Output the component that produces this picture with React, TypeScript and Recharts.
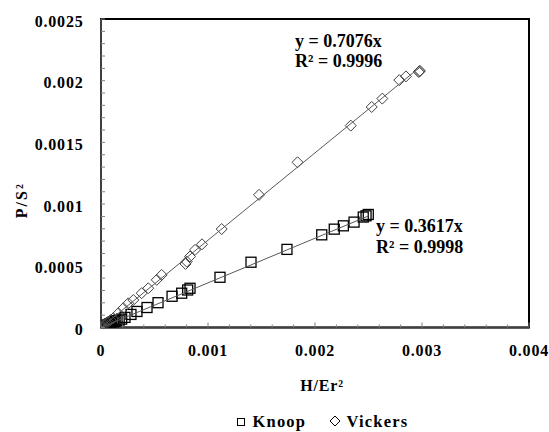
import React from 'react';
import { ScatterChart, Scatter, XAxis, YAxis, ReferenceArea } from 'recharts';

// Knoop indentation data (H/Er², P/S²)
const knoopX = [
  0, 0.000003, 0.000006, 0.00001, 0.000014, 0.00002, 0.000025, 0.00003, 0.00004, 0.000047,
  0.000053, 0.00006, 0.00007, 0.00008, 0.00009, 0.0001, 0.000115, 0.00013, 0.00015, 0.00017,
  0.000193, 0.000224, 0.00028, 0.000336, 0.00043, 0.000533, 0.000664, 0.000754, 0.00081,
  0.000832, 0.001112, 0.001402, 0.001738, 0.002063, 0.00218, 0.002265, 0.002365, 0.002451,
  0.002477, 0.002498,
];
const knoopY = [
  0.000001, 0.000002, 0.000003, 0.000005, 0.000006, 0.000008, 0.000009, 0.00001, 0.000012, 0.000016,
  0.000015, 0.00002, 0.000024, 0.000028, 0.000032, 0.000036, 0.000042, 0.00005, 0.000055, 0.00006,
  0.000068, 0.000082, 0.000106, 0.00013, 0.000162, 0.000201, 0.000253, 0.000278, 0.000304,
  0.000318, 0.000407, 0.000529, 0.000633, 0.000751, 0.000797, 0.000824, 0.000854, 0.000895,
  0.000905, 0.000916,
];

// Vickers indentation data
const vickersX = [
  0, 0.000005, 0.00001, 0.000015, 0.000021, 0.00003, 0.00004, 0.000055, 0.000068, 0.00009,
  0.000115, 0.000162, 0.000208, 0.000255, 0.000302, 0.00038, 0.000442, 0.000521, 0.000567,
  0.00079, 0.000801, 0.000832, 0.000879, 0.000944, 0.001128, 0.001477, 0.001837, 0.002334,
  0.00253, 0.002629, 0.002788, 0.00285, 0.00297, 0.002975, 0.00298,
];
const vickersY = [
  0.000002, 0.000005, 0.00001, 0.000012, 0.00002, 0.000024, 0.000032, 0.00004, 0.000047, 0.00006,
  0.000075, 0.000115, 0.000156, 0.000196, 0.000223, 0.000278, 0.000318, 0.000386, 0.000426,
  0.000515, 0.000534, 0.000575, 0.000629, 0.000674, 0.000798, 0.001075, 0.001339, 0.001636,
  0.001787, 0.001855, 0.002005, 0.002035, 0.00207, 0.002076, 0.00208,
];

// linear trendlines through the origin
const knoopSlope = 0.3617;
const vickersSlope = 0.7076;
const knoopTrendX = [0, 0.0025];
const vickersTrendX = [0, 0.00298];
const knoopEquation = ['y = 0.3617x', 'R² = 0.9998'];
const vickersEquation = ['y = 0.7076x', 'R² = 0.9996'];

const seriesNames = ['Knoop', 'Vickers'];

const xMajorTicks = [0, 0.001, 0.002, 0.003, 0.004];
const xMinorTicks = [0.0002, 0.0004, 0.0006, 0.0008, 0.0012, 0.0014, 0.0016, 0.0018, 0.0022, 0.0024, 0.0026, 0.0028, 0.0032, 0.0034, 0.0036, 0.0038];
const yMajorTicks = [0, 0.0005, 0.001, 0.0015, 0.002, 0.0025];
const yMinorTicks = [
  0.0001, 0.0002, 0.0003, 0.0004, 0.0006, 0.0007, 0.0008, 0.0009, 0.0011, 0.0012, 0.0013, 0.0014,
  0.0016, 0.0017, 0.0018, 0.0019, 0.0021, 0.0022, 0.0023, 0.0024,
];

const xTitle = 'H/Er²';
const yTitle = 'P/S²';

const FONT = "'Liberation Serif', 'Times New Roman', serif";
const tickStyle = { fontFamily: FONT, fontWeight: 700, fontSize: 16, letterSpacing: 0.8, fill: '#000' };

const knoopData = knoopX.map((x, i) => ({ x, y: knoopY[i] }));
const vickersData = vickersX.map((x, i) => ({ x, y: vickersY[i] }));
const knoopTrend = knoopTrendX.map((x) => ({ x, y: x * knoopSlope }));
const vickersTrend = vickersTrendX.map((x) => ({ x, y: x * vickersSlope }));

const xTicks = [...xMajorTicks, ...xMinorTicks].sort((a, b) => a - b);
const yTicks = [...yMajorTicks, ...yMinorTicks].sort((a, b) => a - b);
const isIn = (list: number[], v: number) => list.some((t) => Math.abs(t - v) < 1e-9);

const XTick = (props: any) => {
  const { x, y, payload } = props;
  const major = isIn(xMajorTicks, payload.value);
  return (
    <g>
      <line x1={x} x2={x} y1={y} y2={y - (major ? 5 : 3)} stroke="#808080" />
      {major && (
        <text x={x} y={y + 28.5} textAnchor="middle" style={tickStyle}>
          {String(payload.value)}
        </text>
      )}
    </g>
  );
};

const YTick = (props: any) => {
  const { x, y, payload } = props;
  const major = isIn(yMajorTicks, payload.value);
  return (
    <g>
      <line x1={x} x2={x + 4} y1={y} y2={y} stroke="#808080" />
      {major && (
        <text x={x - 17.5} y={y + 7.5} textAnchor="end" style={tickStyle}>
          {String(payload.value)}
        </text>
      )}
    </g>
  );
};

const SquareMark = (p: any) => (
  <rect x={p.cx - 5} y={p.cy - 5} width={10} height={10} fill="none" stroke="#000" strokeWidth={1.3} />
);

const DiamondMark = (p: any) => (
  <path
    d={`M${p.cx},${p.cy - 5.5}L${p.cx + 5.5},${p.cy}L${p.cx},${p.cy + 5.5}L${p.cx - 5.5},${p.cy}Z`}
    fill="none"
    stroke="#404040"
    strokeWidth={1}
  />
);

const NoMark = () => <g />;

const eqStyle = { fontFamily: FONT, fontWeight: 700, fontSize: 18, fill: '#000' };
const legendStyle = { fontFamily: FONT, fontWeight: 700, fontSize: 16.5, letterSpacing: 1.2, fill: '#000' };

export default function App() {
  return (
    <div style={{ position: 'absolute', left: 0, top: 0, width: 549, height: 432, background: '#fff' }}>
      <ScatterChart width={549} height={432} margin={{ top: 19, right: 20, left: 0, bottom: 34.5 }}>
        <ReferenceArea x1={0} x2={0.004} y1={0} y2={0.0025} fill="none" fillOpacity={0} stroke="#000" strokeWidth={2} />
        <XAxis
          type="number"
          dataKey="x"
          domain={[0, 0.004]}
          ticks={xTicks}
          interval={0}
          tickSize={0}
          tickMargin={0}
          tickLine={false}
          tick={(p: any) => <XTick {...p} />}
          axisLine={{ stroke: '#404040', strokeWidth: 2 }}
          height={70}
          allowDataOverflow
          label={(p: any) => {
            const vb = p.viewBox ?? { x: 101, y: 327.5, width: 428, height: 70 };
            return (
              <text x={vb.x + vb.width / 2 + 7} y={vb.y + 63.5} textAnchor="middle" style={{ ...tickStyle, fontSize: 16 }}>
                {xTitle}
              </text>
            );
          }}
        />
        <YAxis
          type="number"
          dataKey="y"
          domain={[0, 0.0025]}
          ticks={yTicks}
          interval={0}
          tickSize={0}
          tickMargin={0}
          tickLine={false}
          tick={(p: any) => <YTick {...p} />}
          axisLine={{ stroke: '#404040', strokeWidth: 2 }}
          width={101}
          allowDataOverflow
          label={(p: any) => {
            const vb = p.viewBox ?? { x: 0, y: 19, width: 101, height: 308.5 };
            return (
              <text
                transform={`translate(${vb.x + 27},${vb.y + vb.height / 2 + 27}) rotate(-90)`}
                textAnchor="middle"
                style={{ ...tickStyle, fontSize: 16, letterSpacing: 2 }}
              >
                {yTitle}
              </text>
            );
          }}
        />
        <Scatter name={seriesNames[0]} data={knoopData} shape={SquareMark} isAnimationActive={false} />
        <Scatter name={seriesNames[1]} data={vickersData} shape={DiamondMark} isAnimationActive={false} />
        <Scatter data={knoopTrend} line={{ stroke: '#595959', strokeWidth: 1 }} shape={NoMark} legendType="none" isAnimationActive={false} />
        <Scatter data={vickersTrend} line={{ stroke: '#595959', strokeWidth: 1 }} shape={NoMark} legendType="none" isAnimationActive={false} />

        <text x={295} y={47} style={eqStyle}>{vickersEquation[0]}</text>
        <text x={295} y={67} style={eqStyle}>{vickersEquation[1]}</text>
        <text x={376} y={232} style={eqStyle}>{knoopEquation[0]}</text>
        <text x={376} y={252.5} style={eqStyle}>{knoopEquation[1]}</text>

        <g>
          <rect x={237.5} y={418.5} width={7} height={7} fill="none" stroke="#000" strokeWidth={1} />
          <text x={252.5} y={427} style={legendStyle}>{seriesNames[0]}</text>
          <path d="M335,416L340,421L335,426L330,421Z" fill="none" stroke="#000" strokeWidth={1} />
          <text x={346.5} y={427} style={legendStyle}>{seriesNames[1]}</text>
        </g>
      </ScatterChart>
    </div>
  );
}
